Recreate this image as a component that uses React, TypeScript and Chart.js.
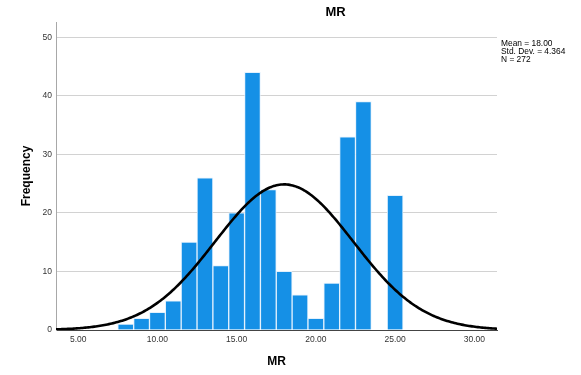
import React, { useEffect, useRef } from "react";
import { Chart, registerables } from "chart.js";

Chart.register(...registerables);

// Histogram bins (centres, width 1) and their frequencies
const binCenters = [8, 9, 10, 11, 12, 13, 14, 15, 16, 17, 18, 19, 20, 21, 22, 23, 24, 25];
const frequencies = [1, 2, 3, 5, 15, 26, 11, 20, 44, 24, 10, 6, 2, 8, 33, 39, 0, 23];
const binWidth = 1;

// Axis ticks
const xTicks = [5, 10, 15, 20, 25, 30];
const yTicks = [0, 10, 20, 30, 40, 50];
const xMin = 3.6;
const xMax = 31.43;
const yMax = 52.6;

// Summary statistics shown on the chart (used for the fitted normal curve)
const meanValue = 18.0;
const sdValue = 4.364;
const nValue = 272;
const statsLines = ["Mean = 18.00", "Std. Dev. = 4.364", "N = 272"];

const chartTitle = "MR";
const xTitle = "MR";
const yTitle = "Frequency";

const FONT = "Arial, 'Liberation Sans', sans-serif";

function normalCurve() {
  const pts: { x: number; y: number }[] = [];
  const steps = 300;
  for (let i = 0; i <= steps; i++) {
    const x = xMin + ((xMax - xMin) * i) / steps;
    const z = (x - meanValue) / sdValue;
    const y = (nValue * binWidth) / (sdValue * Math.sqrt(2 * Math.PI)) * Math.exp(-0.5 * z * z);
    pts.push({ x, y });
  }
  return pts;
}

const textPlugin = {
  id: "extraTexts",
  afterDraw(chart: any) {
    const ctx = chart.ctx;
    const area = chart.chartArea;
    ctx.save();
    ctx.fillStyle = "#000";
    ctx.textBaseline = "middle";
    ctx.textAlign = "center";
    ctx.font = `bold 13px ${FONT}`;
    ctx.fillText(chartTitle, (area.left + chart.width) / 2 + 17, 12);
    ctx.textAlign = "left";
    ctx.font = `8.4px ${FONT}`;
    statsLines.forEach((s, i) => ctx.fillText(s, area.right + 4, 43.5 + i * 8.3));
    ctx.restore();
  },
};

export default function App() {
  const ref = useRef<HTMLCanvasElement | null>(null);

  useEffect(() => {
    if (!ref.current) return;
    const chart = new Chart(ref.current, {
      type: "bar",
      data: {
        datasets: [
          {
            type: "line",
            data: normalCurve(),
            borderColor: "#000",
            borderWidth: 2.6,
            pointRadius: 0,
            tension: 0,
            order: 0,
          } as any,
          {
            type: "bar",
            data: binCenters.map((x, i) => ({ x, y: frequencies[i] })),
            backgroundColor: "#1590E6",
            borderColor: "rgba(225,240,253,0.95)",
            borderWidth: 1,
            borderSkipped: "start",
            categoryPercentage: 1,
            barPercentage: 1,
            order: 1,
          } as any,
        ],
      },
      options: {
        responsive: false,
        animation: false,
        layout: { padding: { top: 22, right: 84, left: 0, bottom: 0 } },
        plugins: {
          legend: { display: false },
          title: { display: false },
          tooltip: { enabled: false },
        },
        scales: {
          x: {
            type: "linear",
            min: xMin,
            max: xMax,
            offset: false,
            afterFit: (s: any) => {
              s.height = 45;
            },
            afterBuildTicks: (s: any) => {
              s.ticks = xTicks.map((v) => ({ value: v }));
            },
            grid: { display: false, drawTicks: false, offset: false },
            border: { display: true, color: "#444", width: 1 },
            ticks: {
              padding: 5,
              color: "#333",
              font: { family: FONT, size: 8.5 },
              maxRotation: 0,
              autoSkip: false,
              callback: (v: any) => Number(v).toFixed(2),
            },
            title: {
              display: true,
              text: xTitle,
              color: "#000",
              font: { family: FONT, size: 12, weight: "bold", lineHeight: 1 },
              padding: { top: 0, bottom: 7 },
            },
          },
          y: {
            min: 0,
            max: yMax,
            afterFit: (s: any) => {
              s.width = 56;
            },
            afterBuildTicks: (s: any) => {
              s.ticks = yTicks.map((v) => ({ value: v }));
            },
            grid: { color: "#d2d2d2", lineWidth: 1, drawTicks: false },
            border: { display: true, color: "#a8a8a8", width: 1 },
            ticks: {
              padding: 4,
              color: "#333",
              font: { family: FONT, size: 8.5 },
              autoSkip: false,
            },
            title: {
              display: true,
              text: yTitle,
              color: "#000",
              font: { family: FONT, size: 12, weight: "bold", lineHeight: 1 },
              padding: { top: 21, bottom: 0 },
            },
          },
        },
      } as any,
      plugins: [textPlugin],
    });
    return () => chart.destroy();
  }, []);

  return (
    <div style={{ position: "absolute", left: 0, top: 0, width: 581, height: 375, background: "#fff" }}>
      <canvas ref={ref} width={581} height={375} style={{ display: "block" }} />
    </div>
  );
}
